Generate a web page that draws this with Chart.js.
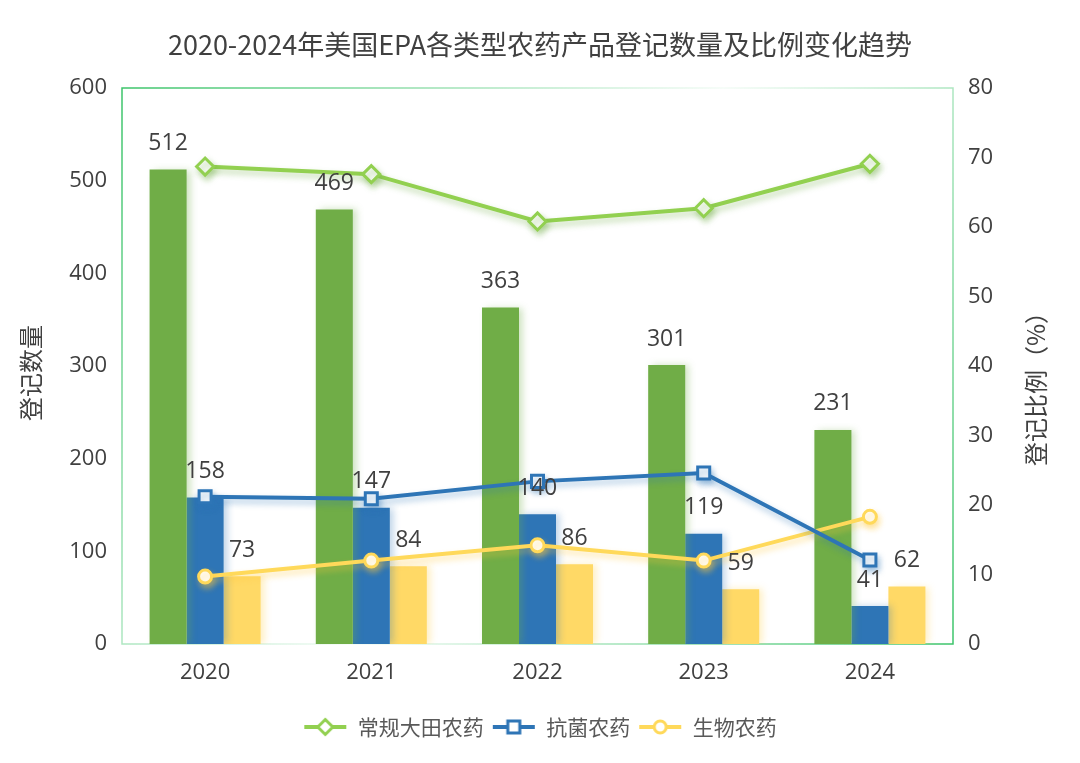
<!DOCTYPE html>
<html>
<head>
<meta charset="utf-8">
<title>2020-2024年美国EPA各类型农药产品登记数量及比例变化趋势</title>
<script src="https://cdn.jsdelivr.net/npm/chart.js@4.4.0/dist/chart.umd.min.js"></script>
<style>
  html, body { margin: 0; padding: 0; background: #fff; }
</style>
</head>
<body>
<canvas id="chart" width="1080" height="763"></canvas>
<script>
// categories and values
const years = ['2020', '2021', '2022', '2023', '2024'];
const seriesNames = ['常规大田农药', '抗菌农药', '生物农药'];

// registration counts (bars, left axis)
const countConventional = [512, 469, 363, 301, 231];
const countAntimicrobial = [158, 147, 140, 119, 41];
const countBio = [73, 84, 86, 59, 62];

// registration share in % (lines, right axis)
const shareConventional = [68.7, 67.6, 60.8, 62.7, 69.1];
const shareAntimicrobial = [21.2, 20.9, 23.4, 24.6, 12.1];
const shareBio = [9.7, 12.0, 14.2, 12.0, 18.3];

// axis ranges
const countAxis = { min: 0, max: 600, step: 100 };
const shareAxis = { min: 0, max: 80, step: 10 };

const leftTitle = '登记数量';
const rightTitle = '登记比例（%）';
const chartTitle = '2020-2024年美国EPA各类型农药产品登记数量及比例变化趋势';

const textColor = '#404040';
const numFont = "'Open Sans', 'Noto Sans CJK SC', sans-serif";
const cjkFont = "'Noto Sans CJK SC', 'Noto Sans', sans-serif";

const colors = {
  barGreen: '#70AD47',
  barBlue: '#2E75B6',
  barYellow: '#FFD966',
  lineGreen: '#92D050',
  lineBlue: '#2E75B6',
  lineYellow: '#FFD95A'
};

// small canvas used as legend symbol: line with a marker in the middle
function legendMarker(color, style) {
  const c = document.createElement('canvas');
  c.width = 44;
  c.height = 20;
  const g = c.getContext('2d');
  g.strokeStyle = color;
  g.lineWidth = 4;
  g.beginPath();
  g.moveTo(1, 10);
  g.lineTo(43, 10);
  g.stroke();
  g.fillStyle = '#fff';
  g.lineWidth = 3;
  g.beginPath();
  if (style === 'diamond') {
    g.moveTo(22, 2.5); g.lineTo(29.5, 10); g.lineTo(22, 17.5); g.lineTo(14.5, 10); g.closePath();
  } else if (style === 'square') {
    g.rect(16, 4, 12, 12);
  } else {
    g.arc(22, 10, 6, 0, Math.PI * 2);
  }
  g.fill();
  g.stroke();
  return c;
}

// soft glow behind bars and lines
const glowPlugin = {
  id: 'glow',
  beforeDatasetDraw(chart, args) {
    const ds = chart.data.datasets[args.index];
    if (!ds.glow) return;
    const ctx = chart.ctx;
    ctx.save();
    ctx.shadowColor = ds.glow;
    ctx.shadowBlur = ds.type === 'line' ? 6 : 7;
    ctx.shadowOffsetX = ds.type === 'line' ? 2 : 4;
    ctx.shadowOffsetY = ds.type === 'line' ? 4 : 0;
  },
  afterDatasetDraw(chart, args) {
    const ds = chart.data.datasets[args.index];
    if (!ds.glow) return;
    chart.ctx.restore();
  }
};

// gradient frame around the plot area
const framePlugin = {
  id: 'frame',
  beforeDatasetsDraw(chart) {
    const { ctx, chartArea: a } = chart;
    const grad = ctx.createLinearGradient(a.left, a.top, a.right, a.bottom);
    grad.addColorStop(0, 'rgba(60,196,106,1)');
    grad.addColorStop(0.5, 'rgba(60,196,106,0.06)');
    grad.addColorStop(1, 'rgba(60,196,106,1)');
    ctx.save();
    ctx.strokeStyle = grad;
    ctx.lineWidth = 1.5;
    ctx.strokeRect(a.left, a.top, a.right - a.left, a.bottom - a.top);
    ctx.restore();
  }
};

// value labels above the bars + rotated axis titles
const labelPlugin = {
  id: 'labels',
  afterDatasetsDraw(chart) {
    const ctx = chart.ctx;
    ctx.save();
    ctx.font = '23px ' + numFont;
    ctx.fillStyle = textColor;
    ctx.textAlign = 'center';
    ctx.textBaseline = 'middle';
    chart.data.datasets.forEach((ds, i) => {
      if (ds.type !== 'bar') return;
      const meta = chart.getDatasetMeta(i);
      meta.data.forEach((bar, j) => {
        ctx.fillText(String(ds.data[j]), bar.x, bar.y - 26);
      });
    });
    ctx.restore();
  },
  afterDraw(chart) {
    const ctx = chart.ctx;
    ctx.save();
    ctx.font = '24px ' + cjkFont;
    ctx.fillStyle = textColor;
    ctx.textAlign = 'center';
    ctx.textBaseline = 'middle';
    ctx.save();
    ctx.translate(31, 373);
    ctx.rotate(-Math.PI / 2);
    ctx.fillText(leftTitle, 0, 0);
    ctx.restore();
    ctx.save();
    ctx.translate(1036, 383);
    ctx.rotate(-Math.PI / 2);
    ctx.fillText(rightTitle, 0, 0);
    ctx.restore();
    ctx.restore();
  }
};

const lineBase = {
  type: 'line',
  yAxisID: 'y1',
  borderWidth: 4,
  pointBorderWidth: 3,
  pointBackgroundColor: '#fff',
  tension: 0,
  order: 0
};

const barBase = {
  type: 'bar',
  yAxisID: 'y',
  order: 1
};

const ctx = document.getElementById('chart').getContext('2d');
new Chart(ctx, {
  data: {
    labels: years,
    datasets: [
      { ...lineBase, label: seriesNames[0], data: shareConventional,
        borderColor: colors.lineGreen, pointBorderColor: colors.lineGreen,
        pointStyle: 'rectRot', pointRadius: 8.5,
        glow: 'rgba(112,173,71,0.45)', legendImg: legendMarker(colors.lineGreen, 'diamond') },
      { ...lineBase, label: seriesNames[1], data: shareAntimicrobial,
        borderColor: colors.lineBlue, pointBorderColor: colors.lineBlue,
        pointStyle: 'rect', pointRadius: 8.5,
        glow: 'rgba(46,117,182,0.4)', legendImg: legendMarker(colors.lineBlue, 'square') },
      { ...lineBase, label: seriesNames[2], data: shareBio,
        borderColor: colors.lineYellow, pointBorderColor: colors.lineYellow,
        pointStyle: 'circle', pointRadius: 6.5,
        glow: 'rgba(255,200,60,0.45)', legendImg: legendMarker(colors.lineYellow, 'circle') },
      { ...barBase, label: seriesNames[0] + '数量', data: countConventional,
        backgroundColor: colors.barGreen, glow: 'rgba(112,173,71,0.35)' },
      { ...barBase, label: seriesNames[1] + '数量', data: countAntimicrobial,
        backgroundColor: colors.barBlue, glow: 'rgba(46,117,182,0.3)' },
      { ...barBase, label: seriesNames[2] + '数量', data: countBio,
        backgroundColor: colors.barYellow, glow: 'rgba(255,210,80,0.35)' }
    ]
  },
  options: {
    responsive: false,
    animation: false,
    events: [],
    datasets: {
      bar: { categoryPercentage: 0.668, barPercentage: 1 }
    },
    layout: { padding: { top: 0, bottom: 15.5, left: 0, right: 0 } },
    plugins: {
      tooltip: { enabled: false },
      title: {
        display: true,
        text: chartTitle,
        color: textColor,
        font: { size: 27, family: cjkFont, weight: 'normal' },
        padding: { top: 29, bottom: 26.6 }
      },
      legend: {
        position: 'bottom',
        labels: {
          usePointStyle: true,
          pointStyleWidth: 44,
          color: '#595959',
          font: { size: 21, family: cjkFont },
          padding: 8,
          filter: item => item.datasetIndex < 3,
          generateLabels(chart) {
            return chart.data.datasets.map((ds, i) => ({
              text: ds.label,
              datasetIndex: i,
              pointStyle: ds.legendImg,
              fillStyle: ds.borderColor,
              strokeStyle: ds.borderColor,
              lineWidth: 0,
              fontColor: '#595959',
              hidden: false
            }));
          }
        }
      }
    },
    scales: {
      x: {
        grid: { display: false, drawTicks: false },
        border: { display: false },
        ticks: { color: textColor, font: { size: 22, family: numFont }, padding: 16 },
        afterFit(s) { s.height = 64.5; }
      },
      y: {
        position: 'left',
        min: countAxis.min,
        max: countAxis.max,
        grid: { display: false, drawTicks: false },
        border: { display: false },
        ticks: { stepSize: countAxis.step, color: textColor, font: { size: 22, family: numFont }, padding: 15 },
        afterFit(s) { s.width = 122; }
      },
      y1: {
        position: 'right',
        min: shareAxis.min,
        max: shareAxis.max,
        grid: { display: false, drawTicks: false },
        border: { display: false },
        ticks: { stepSize: shareAxis.step, color: textColor, font: { size: 22, family: numFont }, padding: 15 },
        afterFit(s) { s.width = 127; }
      }
    }
  },
  plugins: [framePlugin, glowPlugin, labelPlugin]
});
</script>
</body>
</html>
